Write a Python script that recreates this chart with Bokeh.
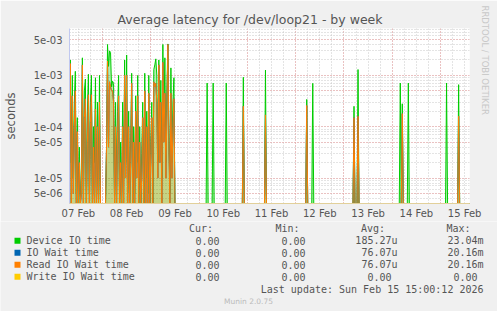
import numpy as np
from bokeh.plotting import figure
from bokeh.layouts import column
from bokeh.models import FixedTicker, CustomJSTickFormatter, Range1d, ColumnDataSource, Title
from bokeh.core.properties import value
from bokeh.embed import file_html
from bokeh.resources import INLINE

# time axis: hours since 07 Feb 00:00 (30-minute samples)
x_start, x_end = 7.6, 206.4
day_label_hours = [12, 36, 60, 84, 108, 132, 156, 180, 204]
day_labels = ["07 Feb", "08 Feb", "09 Feb", "10 Feb", "11 Feb", "12 Feb", "13 Feb", "14 Feb", "15 Feb"]
midnight_hours = [24, 48, 72, 96, 120, 144, 168, 192]

# non-zero samples (values in milliseconds)
green_hours = [7.5, 8.0, 8.5, 9.0, 9.5, 10.0, 10.5, 11.0, 11.5, 12.5, 13.5, 14.0, 14.5, 15.0, 15.5, 16.5, 17.0, 17.5,
               18.0, 18.5, 19.5, 20.0, 20.5, 21.5, 22.0, 22.5,
               26.0, 26.5, 27.0, 27.5, 28.0, 28.5, 29.0, 29.5, 30.5, 31.0, 31.5, 32.0, 33.0, 34.0, 34.5, 35.0, 35.5,
               36.0, 36.5, 37.0, 38.0, 38.5, 39.5, 40.0, 40.5, 41.0, 41.5, 42.5, 43.5, 44.0, 45.0, 45.5, 46.0, 46.5,
               47.0, 48.0, 48.5, 49.5, 50.0, 50.5, 51.0, 51.5, 52.0, 52.5, 53.0, 53.5, 54.0, 54.5, 55.0, 55.5, 56.0,
               56.5, 57.0, 57.5, 58.0, 58.5, 59.0, 59.5,
               76.0, 79.0, 85.5, 94.0, 105.0, 125.5, 128.5, 149.0, 151.0, 172.0, 173.0, 176.0, 195.0, 201.0]
green_ms = [0.05, 2.0, 0.02, 1.0, 0.01, 0.3, 1.2, 0.005, 0.15, 0.04, 0.01, 2.2, 0.005, 0.5, 0.85, 0.2, 1.05, 0.005,
            0.3, 1.0, 0.1, 0.02, 0.9, 0.3, 0.005, 1.0,
            0.04, 4.0, 1.5, 3.0, 2.8, 0.6, 0.77, 0.7, 0.3, 0.01, 0.2, 1.0, 0.05, 0.3, 0.01, 2.0, 0.02,
            2.5, 0.005, 0.2, 0.05, 1.1, 0.1, 0.005, 0.4, 0.02, 1.0, 0.1, 0.03, 0.3, 1.1, 0.01, 0.2, 0.005,
            1.0, 0.05, 0.3, 1.3, 1.6, 2.1, 1.0, 0.02, 2.0, 0.05, 0.8, 0.01, 4.0, 0.1, 2.2, 0.02, 0.5,
            4.1, 0.1, 0.005, 1.4, 0.02, 0.3, 0.9,
            0.71, 0.71, 0.71, 0.92, 1.27, 0.34, 0.70, 0.25, 1.30, 0.71, 0.28, 0.71, 0.71, 0.66]

orange_hours = [7.5, 8.0, 9.0, 9.5, 10.0, 10.5, 11.5, 12.5, 13.5, 14.0, 15.0, 15.5, 16.5, 17.0, 18.0, 18.5, 19.5,
                20.5, 21.5, 22.5,
                26.0, 26.5, 27.0, 27.5, 28.0, 28.5, 29.0, 29.5, 30.5, 31.5, 32.0, 33.0, 34.0, 35.0, 35.5, 36.0,
                37.0, 38.0, 38.5, 39.5, 40.5, 41.0, 41.5, 42.5, 43.5, 44.0, 45.0, 46.0, 47.0, 48.0, 48.5, 49.5,
                50.0, 50.5, 51.0, 51.5, 52.0, 52.5, 53.0, 54.0, 54.5, 55.0, 55.5, 56.0, 56.5, 57.0, 58.0, 58.5,
                59.0, 59.5,
                94.0, 105.0, 125.5, 149.0, 151.0, 173.0, 201.0]
orange_ms = [0.02, 1.7, 0.4, 0.005, 0.1, 0.5, 0.08, 0.02, 0.005, 1.6, 0.15, 0.35, 0.05, 0.42, 0.12, 0.42, 0.04,
             0.22, 0.1, 0.3,
             0.04, 1.9, 0.04, 0.75, 0.6, 0.5, 0.5, 0.3, 0.1, 0.08, 0.4, 0.02, 0.1, 1.0, 0.01, 1.0,
             0.1, 0.02, 0.7, 0.05, 0.2, 0.01, 0.4, 0.05, 0.01, 0.15, 0.5, 0.1, 0.45, 0.03, 0.15, 0.75,
             0.6, 0.7, 0.3, 0.01, 1.6, 0.02, 0.3, 1.8, 0.05, 0.45, 0.01, 0.2, 4.0, 0.05, 0.45, 0.01,
             0.1, 0.35,
             0.25, 0.17, 0.26, 0.15, 0.16, 0.18, 0.16]

y_major = [5e-6, 1e-5, 5e-5, 1e-4, 5e-4, 1e-3, 5e-3]
y_bottom, y_top = 3.19e-6, 8.2e-3

legend_names = ["Device IO time", "IO Wait time", "Read IO Wait time", "Write IO Wait time"]
legend_colors = ["#00CC00", "#0066B3", "#FF8000", "#FFCC00"]
cur_vals = ["0.00", "0.00", "0.00", "0.00"]
min_vals = ["0.00", "0.00", "0.00", "0.00"]
avg_vals = ["185.27u", "76.07u", "76.07u", "0.00"]
max_vals = ["23.04m", "20.16m", "20.16m", "0.00"]

# ---- build full 30-minute series (zeros where nothing was recorded) ----
hours = np.arange(int(x_start * 2) - 1, int(x_end * 2) + 2) / 2.0
idx = {h: i for i, h in enumerate(hours)}

def series(hs, vals):
    out = np.zeros(len(hours))
    for h, v in zip(hs, vals):
        out[idx[h]] = v * 1e-3
    return np.where(out <= 0, y_bottom, out)

green = series(green_hours, green_ms)
orange = series(orange_hours, orange_ms)
zero = np.full(len(hours), y_bottom)
src = ColumnDataSource(dict(h=hours, dev=green, io=orange, rd=orange, wr=zero))

W, H_MAIN, H_LEG = 497, 220, 91
FL, FT, FR, FB = 67, 28, 467, 203
BG = "#F0F0F0"
TXT = "#555555"

p = figure(width=W, height=H_MAIN, frame_width=FR - FL, frame_height=FB - FT,
           output_backend="svg", toolbar_location=None,
           title="Average latency for /dev/loop21 - by week",
           y_axis_type="log", x_range=Range1d(x_start, x_end), y_range=Range1d(y_bottom, y_top),
           min_border_left=FL, min_border_right=W - FR, min_border_top=FT, min_border_bottom=H_MAIN - FB)
p.border_fill_color = BG
p.background_fill_color = "#FFFFFF"
p.outline_line_color = None
p.title.align = "left"
p.title.offset = 48
p.title.standoff = 3
p.title.text_font = "DejaVu Sans"
p.title.text_font_size = "12.5px"
p.title.text_font_style = "normal"
p.title.text_color = TXT
p.add_layout(Title(text="RRDTOOL / TOBI OETIKER", align="left", offset=-23, standoff=20,
                   text_font="DejaVu Sans", text_font_size="8.5px", text_font_style="normal",
                   text_color="#C8C8C8"), "right")

minor_y = [k * 10.0 ** e for e in range(-6, -1) for k in range(1, 10)]
p.ygrid.ticker = FixedTicker(ticks=y_major, minor_ticks=minor_y)
p.ygrid.grid_line_color = "#F0A0A0"
p.ygrid.grid_line_dash = "1 2"
p.ygrid.minor_grid_line_color = "#C8C8C8"
p.ygrid.minor_grid_line_dash = "1 2"

minor_x = [h for h in range(6, 207, 6)]
p.xgrid.ticker = FixedTicker(ticks=midnight_hours, minor_ticks=minor_x)
p.xgrid.grid_line_color = "#F0A0A0"
p.xgrid.grid_line_dash = "1 2"
p.xgrid.minor_grid_line_color = "#C8C8C8"
p.xgrid.minor_grid_line_dash = "1 2"

p.yaxis.ticker = FixedTicker(ticks=y_major, minor_ticks=[])
p.yaxis.formatter = CustomJSTickFormatter(code="return tick.toExponential(0).replace(/e-(\\d)$/, 'e-0$1');")
p.xaxis.ticker = FixedTicker(ticks=day_label_hours, minor_ticks=[])
p.xaxis.major_label_overrides = {h: l for h, l in zip(day_label_hours, day_labels)}
for ax in (p.xaxis[0], p.yaxis[0]):
    ax.major_tick_line_color = None
    ax.minor_tick_line_color = None
    ax.major_tick_out = 0
    ax.major_tick_in = 0
    ax.minor_tick_out = 0
    ax.minor_tick_in = 0
    ax.major_label_text_font = "DejaVu Sans"
    ax.major_label_text_font_size = "10px"
    ax.major_label_text_color = TXT
p.yaxis.major_label_standoff = 7
p.xaxis.major_label_standoff = 4
p.yaxis.axis_label = "seconds"
p.yaxis.axis_label_text_font = "DejaVu Sans"
p.yaxis.axis_label_text_font_size = "11.5px"
p.yaxis.axis_label_text_font_style = "normal"
p.yaxis.axis_label_text_color = TXT
p.yaxis.axis_label_standoff = 13
p.yaxis.axis_line_color = "#C0C8F0"
p.xaxis.axis_line_color = "#E2D09A"

# light fill under each spike (anti-aliased look of rrdtool lines), then the lines
p.varea(x="h", y1="wr", y2="dev", source=src, fill_color="#00CC00", fill_alpha=0.3)
p.varea(x="h", y1="wr", y2="rd", source=src, fill_color="#FF8000", fill_alpha=0.25)
p.line("h", "dev", source=src, color="#00CC00", line_width=1)
p.line("h", "io", source=src, color="#0066B3", line_width=1)
p.line("h", "rd", source=src, color="#FF8000", line_width=1)
p.line("h", "wr", source=src, color="#FFCC00", line_width=1)

# ---- legend / statistics table, drawn in pixel coordinates of the image ----
q = figure(width=W, height=H_LEG, frame_width=W, frame_height=H_LEG,
           output_backend="svg", toolbar_location=None,
           x_range=Range1d(0, W), y_range=Range1d(H_MAIN + H_LEG, H_MAIN),
           x_axis_location=None, y_axis_location=None, min_border=0)
q.grid.visible = False
q.outline_line_color = None
q.background_fill_color = BG
q.border_fill_color = BG

for fig in (p, q):
    if "frame_align" in fig.properties():
        fig.frame_align = False

mono = value("DejaVu Sans Mono")
cw = 6.02
row_y = [239.3 + 12 * i for i in range(4)]

q.rect(x=[17] * 4, y=row_y, width=6, height=6, fill_color=legend_colors, line_color=None)
q.text(x=[26] * 4, y=row_y, text=legend_names, text_font=mono, text_font_size="10px",
       text_color=TXT, text_baseline="middle", text_align="left")

rx, ry, rt = [], [], []
for txt, right in [("Cur:", 212.5), ("Min:", 299), ("Avg:", 384.5), ("Max:", 470)]:
    rx.append(right); ry.append(227.3); rt.append(txt)
for vals, right in [(cur_vals, 225), (min_vals, 311), (avg_vals, 397), (max_vals, 483)]:
    for i, v in enumerate(vals):
        rx.append(right if v[-1].isalpha() else right - cw)
        ry.append(row_y[i]); rt.append(v)
rx.append(483); ry.append(287.7); rt.append("Last update: Sun Feb 15 15:00:12 2026")
q.text(x=rx, y=ry, text=rt, text_font=mono, text_font_size="10px",
       text_color=TXT, text_baseline="middle", text_align="right")
q.text(x=[248], y=[300], text=["Munin 2.0.75"], text_font=value("DejaVu Sans"), text_font_size="7.5px",
       text_color="#BBBBBB", text_baseline="middle", text_align="center")

layout = column(p, q, spacing=0)
open("out.html", "w").write(file_html(layout, INLINE))
